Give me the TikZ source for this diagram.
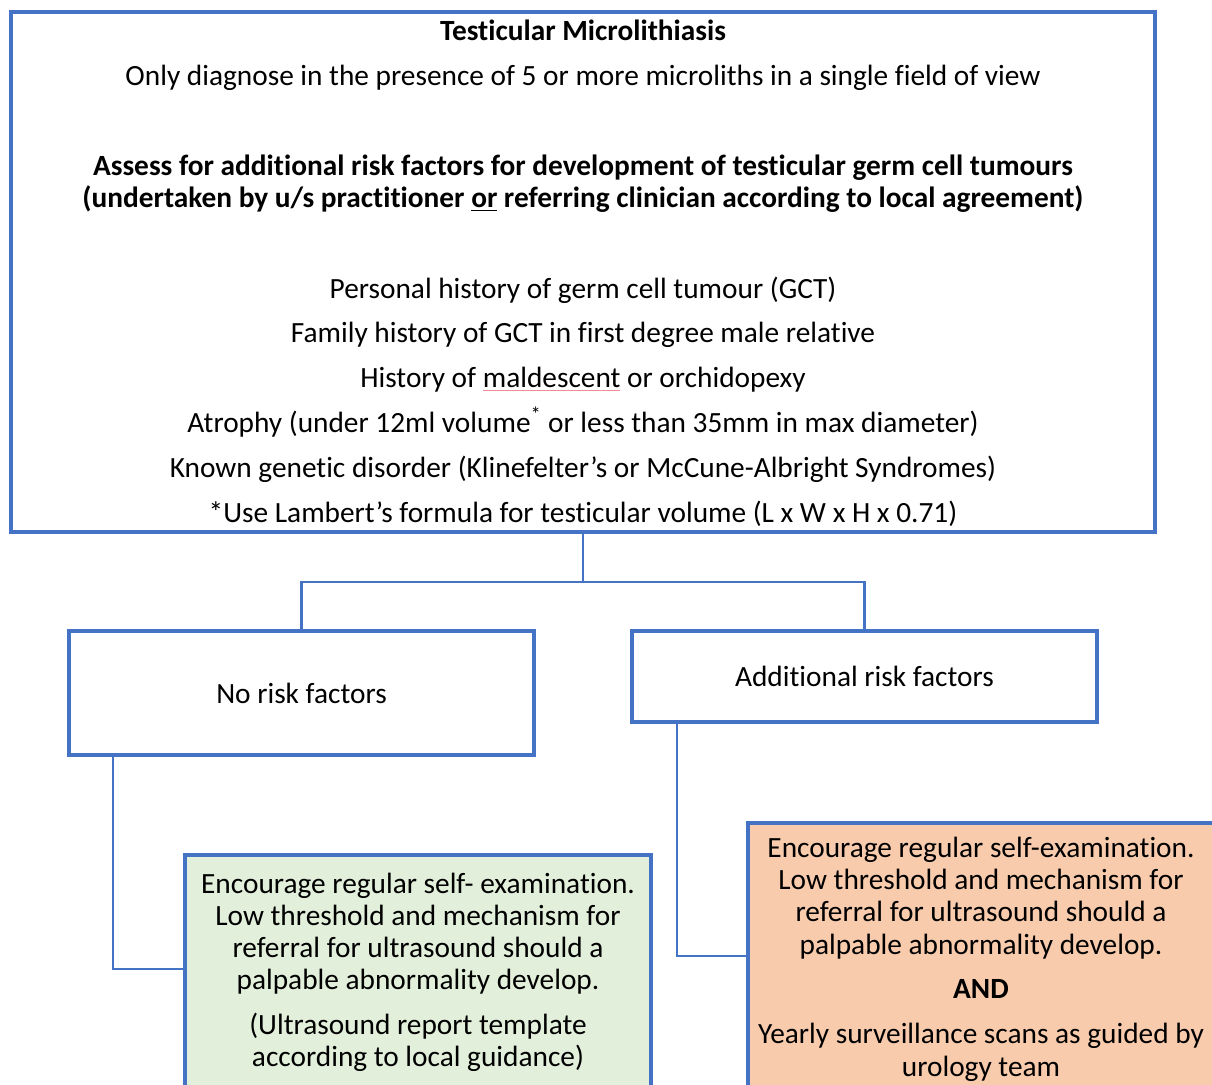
\documentclass[tikz,border=0pt]{standalone}
\usepackage{fontspec}
\setmainfont{Carlito}[Ligatures={NoCommon,TeX}]
\definecolor{boxblue}{HTML}{4472C4}
\definecolor{lowfill}{HTML}{E2EFDA}
\definecolor{highfill}{HTML}{F8CBAD}
\definecolor{spellred}{HTML}{F08C96}
% faint spelling mark under a word
\newcommand\spellmark[1]{\leavevmode\setbox0\hbox{#1}\rlap{\color{spellred}\rule[-2.6pt]{\wd0}{0.7pt}}\box0\relax}
\tikzset{
  box/.style={draw=boxblue, line width=3pt, rectangle, inner sep=0pt},
  link/.style={draw=boxblue, line width=1.8pt},
  txt/.style={anchor=base, inner sep=0pt, font=\fontsize{22}{25}\selectfont},
  head/.style={anchor=base, inner sep=0pt, font=\bfseries\fontsize{22}{25}\selectfont},
}
\begin{document}
\begin{tikzpicture}[x=0.75pt, y=-0.75pt]
\useasboundingbox (0,0) rectangle (1212,1084);
\clip (0,0) rectangle (1212,1084);

% boxes
\node[box, minimum width=858pt, minimum height=390pt] (top) at (583,272) {};
\node[box, minimum width=348.75pt, minimum height=93pt] (norisk) at (301.5,693) {};
\node[box, minimum width=348.75pt, minimum height=68.25pt] (addrisk) at (864.5,676.5) {};
\node[box, fill=lowfill, minimum width=349.5pt, minimum height=183.75pt] (low) at (418,977.5) {};
\node[box, fill=highfill, minimum width=354pt, minimum height=207.75pt] (high) at (984,961.5) {};

% connectors
\draw[link] (top.south) -- ++(0,48) coordinate (fork);
\draw[link] (fork) -| (norisk.north);
\draw[link] (fork) -| (addrisk.north);
\draw[link] ([xshift=34.5pt]norisk.south west) |- ([yshift=6.4pt]low.west);
\draw[link] ([xshift=35.25pt]addrisk.south west) |- ([yshift=4.1pt]high.west);

% main box text
\node[head] (title) at (583,41) {Testicular Microlithiasis};
\node[txt] (rule) at (583,86) {Only diagnose in the presence of 5 or more microliths in a single field of view};
\node[head] (assess1) at (583,176) {Assess for additional risk factors for development of testicular germ cell tumours};
\node[head] (assess2) at (583,208) {(undertaken by u/s practitioner \underline{or} referring clinician according to local agreement)};
\node[txt] (rf1) at (583,298) {Personal history of germ cell tumour (GCT)};
\node[txt] (rf2) at (583,342) {Family history of GCT in first degree male relative};
\node[txt] (rf3) at (583,387) {History of \spellmark{maldescent} or orchidopexy};
\node[txt] (rf4) at (583,432) {Atrophy (under 12ml volume\textsuperscript{*} or less than 35mm in max diameter)};
\node[txt] (rf5) at (583,477) {Known genetic disorder (Klinefelter’s or McCune-Albright Syndromes)};
\node[txt] (rf6) at (583,522) {*Use Lambert’s formula for testicular volume (L x W x H x 0.71)};

% branch labels
\node[txt] (nolabel) at (301.5,703) {No risk factors};
\node[txt] (addlabel) at (864.5,686) {Additional risk factors};

% low-risk advice
\node[txt] (lo1) at (418,893) {Encourage regular self- examination.};
\node[txt] (lo2) at (418,925) {Low threshold and mechanism for};
\node[txt] (lo3) at (418,957) {referral for ultrasound should a};
\node[txt] (lo4) at (418,989) {palpable abnormality develop.};
\node[txt] (lo5) at (418,1034) {(Ultrasound report template};
\node[txt] (lo6) at (418,1066) {according to local guidance)};

% high-risk advice
\node[txt] (hi1) at (981,857) {Encourage regular self-examination.};
\node[txt] (hi2) at (981,889) {Low threshold and mechanism for};
\node[txt] (hi3) at (981,921) {referral for ultrasound should a};
\node[txt] (hi4) at (981,954) {palpable abnormality develop.};
\node[head] (hiand) at (981,998) {AND};
\node[txt] (hi5) at (981,1043) {Yearly surveillance scans as guided by};
\node[txt] (hi6) at (981,1076) {urology team};
\end{tikzpicture}
\end{document}
